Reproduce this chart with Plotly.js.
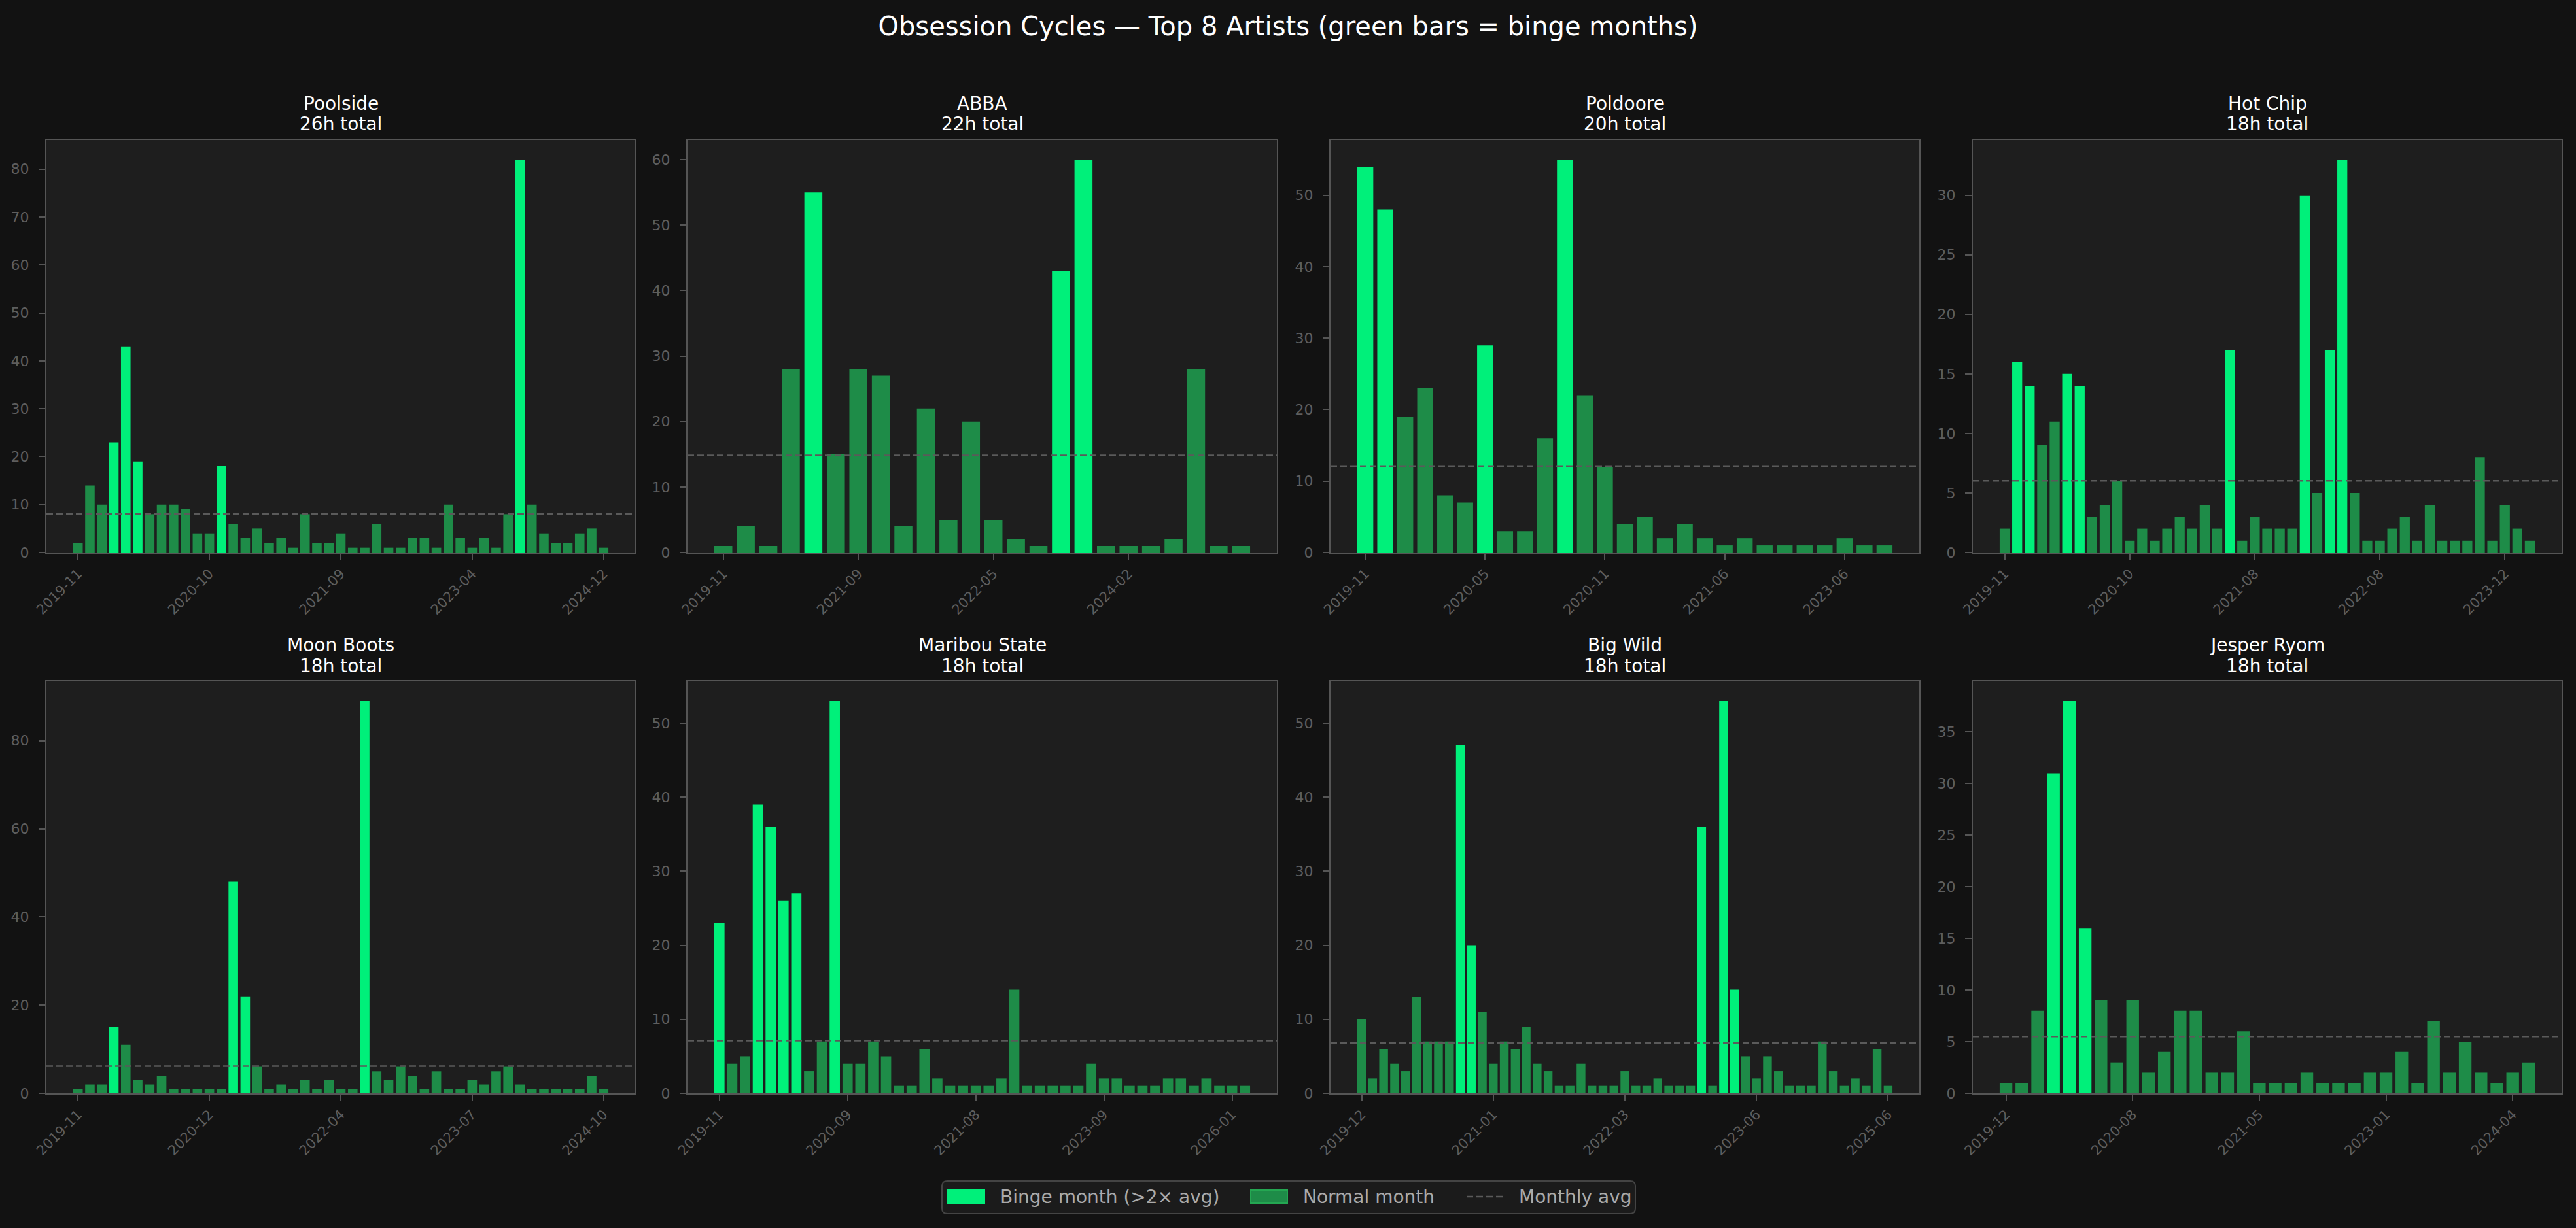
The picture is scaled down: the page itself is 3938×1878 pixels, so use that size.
<!DOCTYPE html>
<html><head><meta charset="utf-8">
<script src="https://cdn.plot.ly/plotly-3.0.1.min.js"></script>
<style>html,body{margin:0;padding:0;background:#121212;}#chart{width:3938px;height:1878px;}</style>
</head><body><div id="chart"></div>
<script>
// ---------------- DATA ----------------
const artists = ['Poolside','ABBA','Poldoore','Hot Chip','Moon Boots','Maribou State','Big Wild','Jesper Ryom'];
const totalHours = [26,22,20,18,18,18,18,18];

const poolsideMonthly = [2,14,10,23,43,19,8,10,10,9,4,4,18,6,3,5,2,3,1,8,2,2,4,1,1,6,1,1,3,3,1,10,3,1,3,1,8,82,10,4,2,2,4,5,1];
const abbaMonthly = [1,4,1,28,55,15,28,27,4,22,5,20,5,2,1,43,60,1,1,1,2,28,1,1];
const poldooreMonthly = [54,48,19,23,8,7,29,3,3,16,55,22,12,4,5,2,4,2,1,2,1,1,1,1,2,1,1];
const hotChipMonthly = [2,16,14,9,11,15,14,3,4,6,1,2,1,2,3,2,4,2,17,1,3,2,2,2,30,5,17,33,5,1,1,2,3,1,4,1,1,1,8,1,4,2,1];
const moonBootsMonthly = [1,2,2,15,11,3,2,4,1,1,1,1,1,48,22,6,1,2,1,3,1,3,1,1,89,5,3,6,4,1,5,1,1,3,2,5,6,2,1,1,1,1,1,4,1];
const maribouStateMonthly = [23,4,5,39,36,26,27,3,7,53,4,4,7,5,1,1,6,2,1,1,1,1,2,14,1,1,1,1,1,4,2,2,1,1,1,2,2,1,2,1,1,1];
const bigWildMonthly = [10,2,6,4,3,13,7,7,7,47,20,11,4,7,6,9,4,3,1,1,4,1,1,1,3,1,1,2,1,1,1,36,1,53,14,5,2,5,3,1,1,1,7,3,1,2,1,6,1];
const jesperRyomMonthly = [1,1,8,31,38,16,9,3,9,2,4,8,8,2,2,6,1,1,1,2,1,1,1,2,2,4,1,7,2,5,2,1,2,3];

const poolsideTicks = ['2019-11','2020-10','2021-09','2023-04','2024-12'];
const abbaTicks = ['2019-11','2021-09','2022-05','2024-02'];
const poldooreTicks = ['2019-11','2020-05','2020-11','2021-06','2023-06'];
const hotChipTicks = ['2019-11','2020-10','2021-08','2022-08','2023-12'];
const moonBootsTicks = ['2019-11','2020-12','2022-04','2023-07','2024-10'];
const maribouStateTicks = ['2019-11','2020-09','2021-08','2023-09','2026-01'];
const bigWildTicks = ['2019-12','2021-01','2022-03','2023-06','2025-06'];
const jesperRyomTicks = ['2019-12','2020-08','2021-05','2023-01','2024-04'];

const seriesList = [poolsideMonthly, abbaMonthly, poldooreMonthly, hotChipMonthly, moonBootsMonthly, maribouStateMonthly, bigWildMonthly, jesperRyomMonthly];
const tickList = [poolsideTicks, abbaTicks, poldooreTicks, hotChipTicks, moonBootsTicks, maribouStateTicks, bigWildTicks, jesperRyomTicks];
const yDticks = [10,10,10,5,20,10,10,5];

// ---------------- STYLE / LAYOUT ----------------
const W = 3938, H = 1878;
const FONT = 'DejaVu Sans, Liberation Sans, sans-serif';
const BINGE = '#00F07A', NORMAL = '#1E8C48', NORMAL_EDGE = '#24A752';
const AX_COL = '#555555', TICK_COL = '#5e5e5e';
const colL = [71, 1051, 2034, 3016], colR = [971, 1952, 2934, 3916];
const rowT = [214, 1042], rowB = [845, 1672];
const px = x => x / W, py = y => 1 - y / H;

const traces = [], shapes = [], annotations = [];
const layout = {
  width: W, height: H,
  paper_bgcolor: '#121212', plot_bgcolor: '#1e1e1e',
  margin: {l: 0, r: 0, t: 0, b: 0},
  showlegend: false,
  barmode: 'overlay', bargap: 0.2,
  font: {family: FONT, color: TICK_COL},
  title: {text: 'Obsession Cycles \u2014 Top 8 Artists (green bars = binge months)',
          font: {family: FONT, size: 40, color: '#ffffff'},
          x: 0.5, xanchor: 'center', xref: 'paper', y: py(40), yanchor: 'middle', yref: 'container'}
};

seriesList.forEach((vals, i) => {
  const k = i + 1, sfx = k === 1 ? '' : String(k);
  const r = Math.floor(i / 4), c = i % 4;
  const N = vals.length;
  const xs = vals.map((_, j) => j);
  const avg = vals.reduce((a, b) => a + b, 0) / N;
  const colors = vals.map(v => v > 2 * avg ? BINGE : NORMAL);
  const step = Math.floor(N / 4);
  const tickvals = [];
  for (let j = 0; j < N; j += step) tickvals.push(j);
  const ext = N - 0.2, pad = 0.05 * ext;
  const maxV = Math.max(...vals);

  traces.push({type: 'bar', x: xs, y: vals, xaxis: 'x' + sfx, yaxis: 'y' + sfx,
    marker: {color: colors, line: {width: 0}}, hoverinfo: 'y'});

  layout['xaxis' + sfx] = {
    domain: [px(colL[c]), px(colR[c])], anchor: 'y' + sfx,
    range: [-0.4 - pad, N - 0.6 + pad],
    tickmode: 'array', tickvals: tickvals, ticktext: tickList[i].slice(0, tickvals.length),
    tickangle: -45, ticks: 'outside', ticklen: 10, tickwidth: 2, tickcolor: AX_COL,
    tickfont: {family: FONT, size: 21, color: TICK_COL},
    showline: true, mirror: true, linecolor: AX_COL, linewidth: 2,
    showgrid: false, zeroline: false
  };
  layout['yaxis' + sfx] = {
    domain: [py(rowB[r]), py(rowT[r])], anchor: 'x' + sfx,
    range: [0, maxV * 1.05], tick0: 0, dtick: yDticks[i],
    ticks: 'outside', ticklen: 10, tickwidth: 2, tickcolor: AX_COL,
    tickfont: {family: FONT, size: 22, color: TICK_COL}, ticklabelstandoff: 10,
    showline: true, mirror: true, linecolor: AX_COL, linewidth: 2,
    showgrid: false, zeroline: false
  };

  shapes.push({type: 'line', xref: 'x' + sfx + ' domain', yref: 'y' + sfx,
    x0: 0, x1: 1, y0: avg, y1: avg, layer: 'above',
    line: {color: '#5a5a5a', width: 2.5, dash: '10px,5px'}});

  const cx = px((colL[c] + colR[c]) / 2);
  annotations.push({text: artists[i], x: cx, y: py(rowT[r] - 56), xref: 'paper', yref: 'paper',
    xanchor: 'center', yanchor: 'middle', showarrow: false,
    font: {family: FONT, size: 28, color: '#ffffff'}});
  annotations.push({text: totalHours[i] + 'h total', x: cx, y: py(rowT[r] - 24), xref: 'paper', yref: 'paper',
    xanchor: 'center', yanchor: 'middle', showarrow: false,
    font: {family: FONT, size: 28, color: '#ffffff'}});
});

// ---------------- LEGEND (drawn manually) ----------------
(function () {
  const x0 = 1440, x1 = 2500, y0 = 1806, y1 = 1856, rad = 8;
  const rx = rad / W, ry = rad / H;
  const L = px(x0), R = px(x1), T = py(y0), B = py(y1);
  shapes.push({type: 'path', xref: 'paper', yref: 'paper', layer: 'above',
    path: `M${L + rx},${T} L${R - rx},${T} Q${R},${T} ${R},${T - ry} L${R},${B + ry} Q${R},${B} ${R - rx},${B} L${L + rx},${B} Q${L},${B} ${L},${B + ry} L${L},${T - ry} Q${L},${T} ${L + rx},${T} Z`,
    fillcolor: '#1b1b1b', line: {color: '#444444', width: 2}});
  shapes.push({type: 'rect', xref: 'paper', yref: 'paper', layer: 'above',
    x0: px(1448), x1: px(1506), y0: py(1841), y1: py(1819), fillcolor: BINGE, line: {width: 0}});
  shapes.push({type: 'rect', xref: 'paper', yref: 'paper', layer: 'above',
    x0: px(1912), x1: px(1968), y0: py(1840), y1: py(1820), fillcolor: NORMAL, line: {color: NORMAL_EDGE, width: 2}});
  shapes.push({type: 'line', xref: 'paper', yref: 'paper', layer: 'above',
    x0: px(2242), x1: px(2297), y0: py(1830), y1: py(1830), line: {color: '#5a5a5a', width: 2.5, dash: '10px,5px'}});
  const items = [['Binge month (>2\u00d7 avg)', 1527], ['Normal month', 1990], ['Monthly avg', 2320]];
  items.forEach(([t, xp]) => annotations.push({text: t, x: px(xp), y: py(1830), xref: 'paper', yref: 'paper',
    xanchor: 'left', yanchor: 'middle', showarrow: false, font: {family: FONT, size: 28, color: '#aaaaaa'}}));
})();

layout.shapes = shapes;
layout.annotations = annotations;
Plotly.newPlot('chart', traces, layout, {displayModeBar: false, staticPlot: true});
</script></body></html>
